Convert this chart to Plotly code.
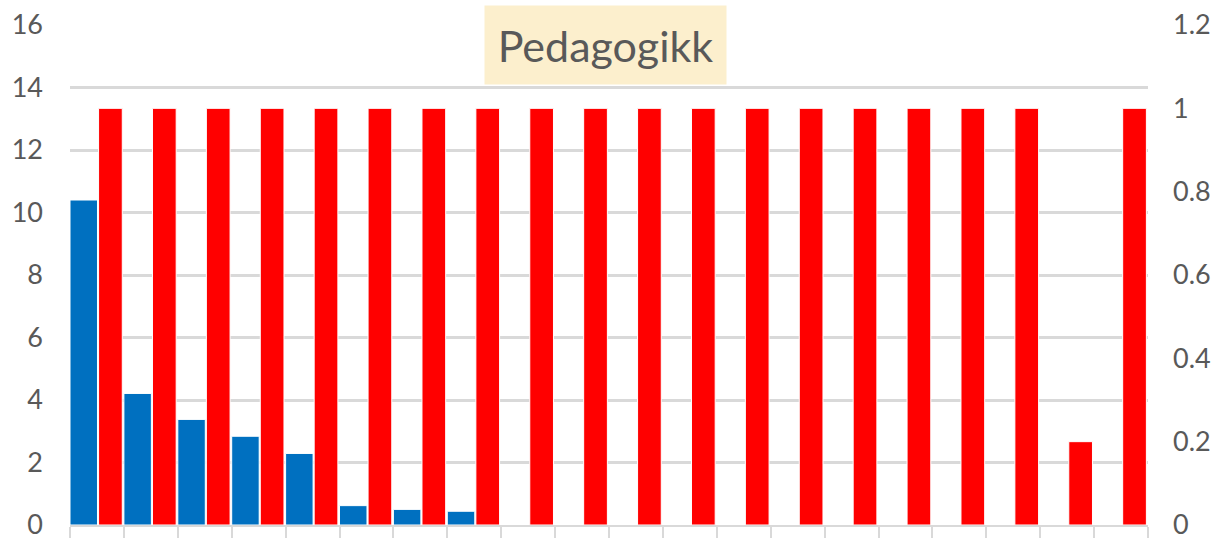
import plotly.graph_objects as go

categories = [str(i) for i in range(1, 21)]
blue_values = [10.4, 4.21, 3.38, 2.84, 2.29, 0.62, 0.5, 0.44] + [0] * 12
red_values = [1] * 18 + [0.2, 1]
left_ticks = [0, 2, 4, 6, 8, 10, 12, 14, 16]
right_ticks = [0, 0.2, 0.4, 0.6, 0.8, 1, 1.2]
right_tick_text = ["0", "0.2", "0.4", "0.6", "0.8", "1", "1.2"]
title_text = "Pedagogikk"

GRAY = "#595959"
GRID = "#d9d9d9"
FONT = "Lato"

W, H = 1216, 540
L, T = 70, 25
PW, PH = 1078, 500

fig = go.Figure()
fig.add_trace(go.Bar(
    x=categories, y=blue_values, yaxis="y",
    marker=dict(color="#0070C0", line=dict(color="#ffffff", width=1)),
    offset=-0.5, width=0.51, showlegend=False,
))
fig.add_trace(go.Bar(
    x=categories, y=red_values, yaxis="y2",
    marker=dict(color="#FF0000", line=dict(color="#ffffff", width=1)),
    offset=0.03, width=0.44, showlegend=False,
))

fig.update_layout(
    template="none",
    width=W, height=H,
    margin=dict(l=L, r=W - L - PW, t=T, b=H - T - PH, autoexpand=False),
    paper_bgcolor="white", plot_bgcolor="white",
    barmode="overlay",
    font=dict(family=FONT, color=GRAY),
    xaxis=dict(
        type="category", range=[-0.5, 19.5], automargin=False,
        showticklabels=False, showgrid=False,
        ticks="outside", tickson="boundaries", ticklen=11,
        tickcolor=GRID, tickwidth=2,
        showline=True, linecolor=GRID, linewidth=2,
    ),
    yaxis=dict(
        range=[0, 16], tickvals=left_ticks, automargin=False,
        showgrid=True, gridcolor=GRID, gridwidth=2.5,
        zeroline=False, ticks="", ticklabelstandoff=26,
        ticklabeloverflow="allow",
        tickfont=dict(size=27, color=GRAY, family=FONT),
    ),
    yaxis2=dict(
        range=[0, 1.2], tickvals=right_ticks, ticktext=right_tick_text,
        overlaying="y", side="right", showgrid=False, zeroline=False,
        automargin=False, ticks="", ticklabelstandoff=24,
        ticklabeloverflow="allow",
        tickfont=dict(size=27, color=GRAY, family=FONT),
    ),
    annotations=[dict(
        text=title_text, xref="paper", yref="paper",
        x=(605 - L) / PW, y=(525 - 45) / PH,
        xanchor="center", yanchor="middle",
        showarrow=False, bgcolor="#FCEFCD",
        width=241, height=78, borderpad=0,
        font=dict(size=43, color=GRAY, family=FONT),
    )],
)

fig.write_html(
    "out.html",
    config={"displayModeBar": False},
    post_script="document.body.style.margin='0';document.body.style.overflow='hidden';",
)
